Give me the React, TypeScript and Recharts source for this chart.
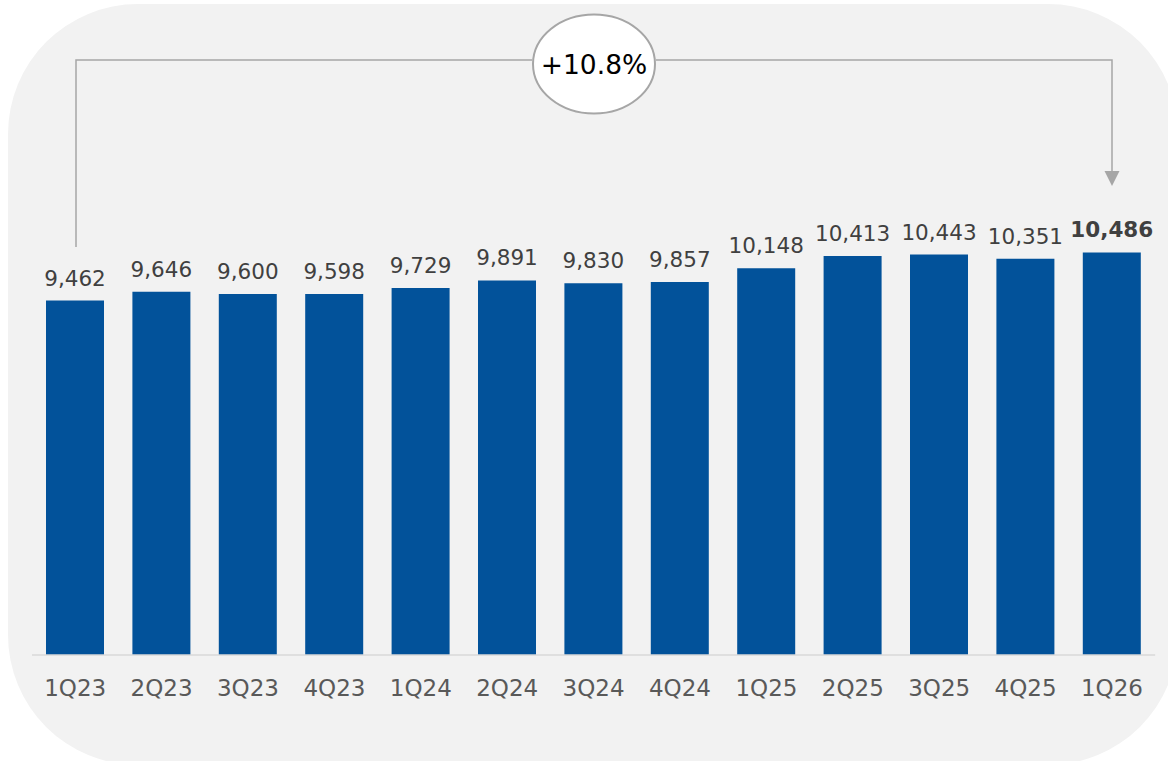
import React from 'react';
import { BarChart, Bar, XAxis, YAxis, LabelList } from 'recharts';

const quarters = ['1Q23', '2Q23', '3Q23', '4Q23', '1Q24', '2Q24', '3Q24', '4Q24', '1Q25', '2Q25', '3Q25', '4Q25', '1Q26'];
const values = [9462, 9646, 9600, 9598, 9729, 9891, 9830, 9857, 10148, 10413, 10443, 10351, 10486];
const growthLabel = '+10.8%';

const data = quarters.map((q, i) => ({ quarter: q, value: values[i] }));

const FONT = '"DejaVu Sans", Verdana, sans-serif';
const BAR_COLOR = '#02529A';
const LINE_COLOR = '#A6A6A6';

const ValueLabel = (props: any) => {
  const { x, y, width, value, index } = props;
  const isLast = index === values.length - 1;
  return (
    <text
      x={x + width / 2}
      y={y - 15}
      textAnchor="middle"
      fontFamily={FONT}
      fontSize={21.5}
      fontWeight={isLast ? 700 : 400}
      fill="#404040"
    >
      {Number(value).toLocaleString('en-US')}
    </text>
  );
};

const QuarterTick = (props: any) => {
  const { x, y, payload } = props;
  return (
    <text x={x} y={y + 33} textAnchor="middle" fontFamily={FONT} fontSize={23} fill="#595959">
      {payload.value}
    </text>
  );
};

export default function App() {
  return (
    <div style={{ position: 'absolute', left: 0, top: 0, width: 1168, height: 761, overflow: 'hidden', background: '#fff' }}>
      <div
        style={{
          position: 'absolute',
          left: 8,
          top: 4,
          width: 1170,
          height: 761,
          borderRadius: 130,
          background: '#F2F2F2',
        }}
      />
      <div style={{ position: 'absolute', left: 0, top: 0 }}>
        <BarChart
          width={1168}
          height={761}
          data={data}
          margin={{ top: 228.4, right: 12.8, bottom: 76, left: 32 }}
        >
          <XAxis
            dataKey="quarter"
            axisLine={{ stroke: '#D9D9D9', strokeWidth: 1.5 }}
            tickLine={false}
            tick={<QuarterTick />}
            height={30}
            interval={0}
          />
          <YAxis hide domain={[1900, 11000]} />
          <Bar dataKey="value" fill={BAR_COLOR} barSize={58} isAnimationActive={false}>
            <LabelList dataKey="value" content={<ValueLabel />} />
          </Bar>
        </BarChart>
      </div>
      <svg
        width={1168}
        height={761}
        style={{ position: 'absolute', left: 0, top: 0, pointerEvents: 'none' }}
      >
        {/* growth bracket from first to last quarter */}
        <path d="M76 247 V60 H532" fill="none" stroke={LINE_COLOR} strokeWidth={1.5} />
        <path d="M656 60 H1112 V172" fill="none" stroke={LINE_COLOR} strokeWidth={1.5} />
        <polygon points="1104.5,171 1119.5,171 1112,186" fill={LINE_COLOR} />
        <ellipse cx={594} cy={64} rx={61} ry={49.5} fill="#FFFFFF" stroke={LINE_COLOR} strokeWidth={2} />
        <text x={594} y={64} dy="0.36em" textAnchor="middle" fontFamily={FONT} fontSize={26.5} fill="#000">
          {growthLabel}
        </text>
      </svg>
    </div>
  );
}
